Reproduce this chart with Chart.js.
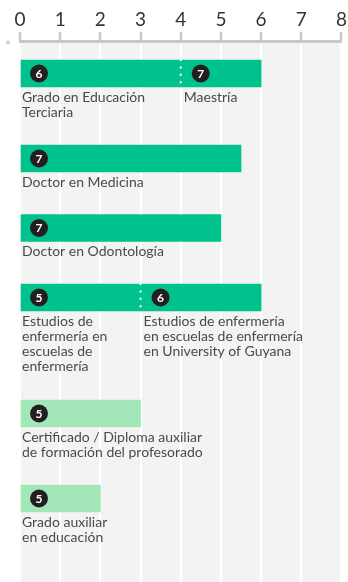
<!DOCTYPE html>
<html>
<head>
<meta charset="utf-8">
<script src="https://cdn.jsdelivr.net/npm/chart.js"></script>
<style>
  html, body { margin: 0; padding: 0; background: #fff; }
  #wrap { width: 348px; height: 582px; }
</style>
</head>
<body>
<div id="wrap"><canvas id="chart"></canvas></div>
<script>
// qualification level shown on the left part of each bar
const levelLabels = [
    ['Grado en Educación', 'Terciaria'],
    ['Doctor en Medicina'],
    ['Doctor en Odontología'],
    ['Estudios de', 'enfermería en', 'escuelas de', 'enfermería'],
    ['Certificado / Diploma auxiliar', 'de formación del profesorado'],
    ['Grado auxiliar', 'en educación']
];
const levelNumbers = [6, 7, 7, 5, 5, 5];
const levelYears = [4, 5.5, 5, 3, 3, 2];

// follow-on qualification (second part of the bar), if any
const nextLabels = [
    ['Maestría'],
    null,
    null,
    ['Estudios de enfermería', 'en escuelas de enfermería', 'en University of Guyana'],
    null,
    null
];
const nextNumbers = [7, null, null, 6, null, null];
const nextYears = [2, null, null, 3, null, null];

const auxiliary = [false, false, false, false, true, true];
const xMin = 0, xMax = 8;

// layout: every row gets space for its bar plus the lines of text under it
const firstRow = 32.5, rowBase = 54, lineStep = 15.5, plotHeight = 541;
const rowPos = [];
let pos = firstRow;
levelLabels.forEach((l, i) => {
    rowPos.push(pos);
    const lines = Math.max(l.length, nextLabels[i] ? nextLabels[i].length : 0);
    pos += rowBase + lines * lineStep;
});

const GREEN = '#00c28c', LIGHT = '#a3e7b9';
const barColor = ctx => auxiliary[ctx.raw.row] ? LIGHT : GREEN;

const firstData = levelYears.map((v, i) => ({ x: [0, v], y: rowPos[i], row: i }));
const secondData = [];
nextYears.forEach((v, i) => {
    if (v != null) secondData.push({ x: [levelYears[i], levelYears[i] + v], y: rowPos[i], row: i });
});

const overlay = {
    id: 'overlay',
    beforeDraw(chart) {
        const { ctx, chartArea: a } = chart;
        ctx.save();
        ctx.fillStyle = '#f3f3f3';
        ctx.fillRect(a.left, a.top, a.right - a.left, a.bottom - a.top);
        ctx.fillStyle = '#cfcfcf';
        ctx.beginPath();
        ctx.arc(a.left - 12, a.top + 1.5, 2, 0, Math.PI * 2);
        ctx.fill();
        ctx.restore();
    },
    afterDatasetsDraw(chart) {
        const ctx = chart.ctx;
        ctx.save();
        chart.data.datasets.forEach((ds, di) => {
            const meta = chart.getDatasetMeta(di);
            meta.data.forEach((el, j) => {
                const row = ds.data[j].row;
                const half = el.height / 2;
                // dotted divider between the two parts
                if (di === 1) {
                    ctx.strokeStyle = '#fff';
                    ctx.lineWidth = 2;
                    ctx.setLineDash([2, 5.4]);
                    ctx.beginPath();
                    ctx.moveTo(el.base, el.y - half - 1);
                    ctx.lineTo(el.base, el.y + half);
                    ctx.stroke();
                    ctx.setLineDash([]);
                }
                // number badge
                const num = di === 0 ? levelNumbers[row] : nextNumbers[row];
                const cx = el.base + (di === 0 ? 18 : 20);
                ctx.fillStyle = '#231f20';
                ctx.beginPath();
                ctx.arc(cx, el.y, 9, 0, Math.PI * 2);
                ctx.fill();
                ctx.fillStyle = '#fff';
                ctx.font = 'bold 12px Lato';
                ctx.textAlign = 'center';
                ctx.textBaseline = 'middle';
                ctx.fillText(num, cx, el.y + 0.5);
                // text under the bar
                const lines = di === 0 ? levelLabels[row] : nextLabels[row];
                ctx.fillStyle = '#4a4a4a';
                ctx.font = '14px Lato';
                ctx.textAlign = 'left';
                ctx.textBaseline = 'alphabetic';
                lines.forEach((t, k) => {
                    ctx.fillText(t, el.base + (di === 0 ? 1 : 3), el.y + half + 14.5 + k * 15);
                });
            });
        });
        ctx.restore();
    }
};

new Chart(document.getElementById('chart'), {
    type: 'bar',
    data: {
        datasets: [
            { data: firstData, backgroundColor: barColor, barThickness: 27, grouped: false, borderWidth: 0 },
            { data: secondData, backgroundColor: barColor, barThickness: 27, grouped: false, borderWidth: 0 }
        ]
    },
    options: {
        indexAxis: 'y',
        responsive: true,
        maintainAspectRatio: false,
        animation: false,
        devicePixelRatio: 1,
        layout: { padding: { left: 20, right: 5, top: 0, bottom: 0 } },
        plugins: { legend: { display: false }, tooltip: { enabled: false } },
        scales: {
            x: {
                type: 'linear',
                position: 'top',
                min: xMin,
                max: xMax,
                ticks: { stepSize: 1, padding: 1, color: '#333', font: { family: 'Lato', size: 19, weight: 400 } },
                grid: { color: '#fff', lineWidth: 2, tickColor: '#c8c8c8', tickWidth: 2.5, tickLength: 9 },
                border: { color: '#c8c8c8', width: 3 },
                afterFit: s => { s.height = 41; }
            },
            y: {
                type: 'linear',
                display: false,
                reverse: true,
                offset: false,
                min: 0,
                max: plotHeight
            }
        }
    },
    plugins: [overlay]
});
</script>
</body>
</html>
